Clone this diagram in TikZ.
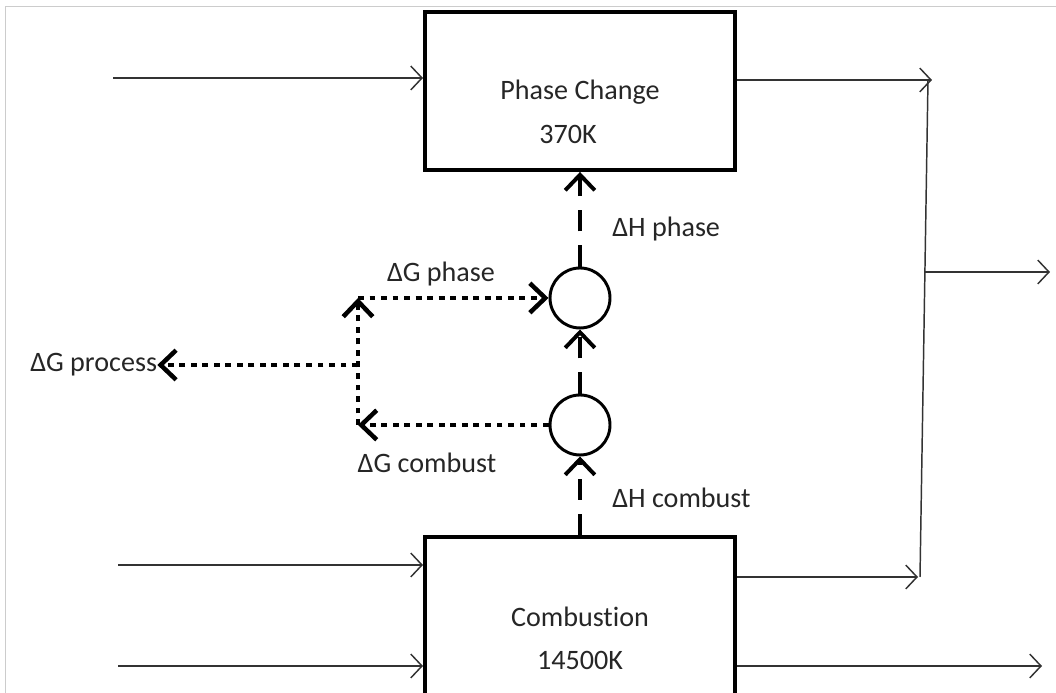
\documentclass[tikz,border=0pt]{standalone}
\usepackage{fontspec}
\setmainfont{Carlito}[Ligatures=NoCommon]
\usetikzlibrary{arrows.meta}

\begin{document}
\begin{tikzpicture}[
    bloque/.style = {
        draw,
        line width     = 2.8pt,
        minimum width  = 7.75cm,
        minimum height = 3.95cm,
        inner sep      = 0pt
    },
    suma/.style = {
        draw,
        circle,
        line width   = 2.1pt,
        minimum size = 1.5cm,
        inner sep    = 0pt
    },
    texto/.style = {
        font      = \fontsize{20}{24}\selectfont,
        text      = black!85,
        inner sep = 0pt
    },
    flujo/.style = {
        draw       = black!80,
        line width = 1.05pt,
        -{Straight Barb[length=8pt,width=17pt]}
    },
    entalpia/.style = {
        line width   = 2.8pt,
        dash pattern = on 15pt off 10pt,
        -{Straight Barb[length=11pt,width=21pt]}
    },
    gibbs/.style = {
        line width   = 3.2pt,
        dash pattern = on 4.2pt off 4pt,
        -{Straight Barb[length=11pt,width=21pt]}
    }
]

\useasboundingbox (0, 0) rectangle (26.4, 17.325);

% ================================================================
%  MARCO (borde gris de la captura)
% ================================================================

\draw[gray!40, line width=0.7pt] (0.125, 0) -- (0.125, 17.15) -- (26.4, 17.15);

% ================================================================
%  BLOQUES
% ================================================================

\node[bloque] (phase) at (14.5, 15.05) {};
\node[bloque] (comb)  at (14.5, 1.925) {};

\node[texto] (phasenom)  at (14.5, 15.025) {Phase Change};
\node[texto] (phasetemp) at (14.2, 13.975) {370K};
\node[texto] (combnom)   at (14.5, 1.9)    {Combustion};
\node[texto] (combtemp)  at (14.5, 0.825)  {14500K};

% ================================================================
%  NODOS DE SUMA
% ================================================================

\node[suma] (mixH) at (14.5, 9.875) {};
\node[suma] (mixC) at (14.5, 6.7)   {};

% ================================================================
%  FLUJOS DE ENTRADA Y SALIDA
% ================================================================

\coordinate (inP)   at (2.825, 15.375);
\coordinate (inC1)  at (2.95, 3.2);
\coordinate (inC2)  at (2.95, 0.675);
\coordinate (jtop)  at (23.3, 15.325);
\coordinate (jbot)  at (22.95, 2.9);
\coordinate (jmid)  at (23.125, 10.525);
\coordinate (outM)  at (26.25, 10.525);
\coordinate (outC)  at (26.05, 0.675);

\draw[flujo] (inP)  -- (inP -| phase.west);
\draw[flujo] (inC1) -- (inC1 -| comb.west);
\draw[flujo] (inC2) -- (inC2 -| comb.west);

\draw[flujo] (phase.east |- jtop) -- (jtop);
\draw[flujo] (comb.east |- jbot)  -- (jbot);
\draw[flujo] (comb.east |- outC)  -- (outC);

% colector derecho
\draw[draw=black!80, line width=1.05pt] (23.2, 15.325) -- (23.0, 2.9);
\draw[flujo] (jmid) -- (outM);

% ================================================================
%  ENTALPIAS (discontinuas)
% ================================================================

\draw[entalpia] (comb.north) -- (mixC.south);
\draw[entalpia] (mixC.north) -- (mixH.south);
\draw[entalpia] (mixH.north) -- (phase.south);

\node[texto, anchor=west] (dHphase) at (15.3, 11.6)  {ΔH phase};
\node[texto, anchor=west] (dHcomb)  at (15.3, 4.875) {ΔH combust};

% ================================================================
%  ENERGIA LIBRE (punteadas)
% ================================================================

\coordinate (gtop) at (8.95, 9.875);
\coordinate (gmid) at (8.95, 8.2);
\coordinate (gbot) at (8.95, 6.7);

\node[texto, anchor=west] (gproc) at (0.75, 8.2) {ΔG process};

\draw[gibbs] (gtop) -- (mixH.west);
\draw[gibbs] (mixC.west) -- (gbot);
\draw[gibbs] (gbot) -- (gtop);
\draw[gibbs] (gmid) -- (gproc.east);

\node[texto] (dGphase) at (11.025, 10.475) {ΔG phase};
\node[texto] (dGcomb)  at (10.675, 5.75)   {ΔG combust};

\end{tikzpicture}
\end{document}
